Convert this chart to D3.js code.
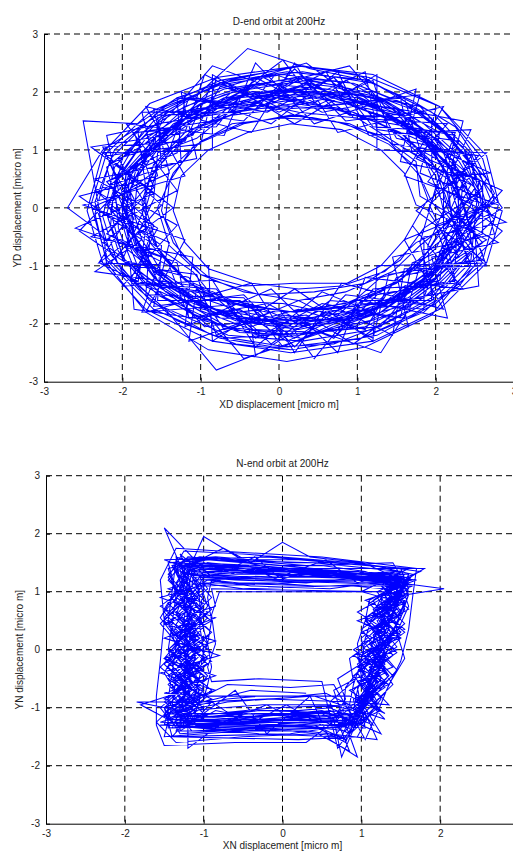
<!DOCTYPE html>
<html><head><meta charset="utf-8">
<script src="https://cdn.jsdelivr.net/npm/d3@7"></script>
<style>html,body{margin:0;padding:0;background:#fff;}svg{display:block;font-family:"Liberation Sans",Arial,sans-serif;}</style>
</head><body>
<svg id="chart" width="513" height="851"></svg>
<script>
const tickValues = [-3, -2, -1, 0, 1, 2, 3];
const tickLabels = ["-3", "-2", "-1", "0", "1", "2", "3"];
const titles = ["D-end orbit at 200Hz", "N-end orbit at 200Hz"];
const xLabels = ["XD displacement [micro m]", "XN displacement [micro m]"];
const yLabels = ["YD displacement [micro m]", "YN displacement [micro m]"];

const dEndOrbit = [
[2.35,0.05],[2.1,0.7],[1.9,1.1],[1.5,1.7],[0.8,1.85],[0.25,2.1],[-0.5,1.8],[-1.1,1.7],[-1.5,1.1],[-1.9,0.7],[-2.0,0.1],[-1.8,-0.7],[-1.6,-1.1],[-1.0,-1.7],[-0.4,-1.85],[0.2,-2.1],[0.9,-1.8],[1.4,-1.7],[2.0,-1.1],[2.3,-0.55],
[2.6,0.1],[2.45,0.75],[2.1,1.3],[1.6,1.8],[0.95,2.15],[0.2,2.25],[-0.55,2.05],[-1.2,1.75],[-1.75,1.3],[-2.05,0.6],[-2.2,-0.1],[-2.05,-0.75],[-1.7,-1.35],[-1.15,-1.8],[-0.5,-2.15],[0.25,-2.2],[0.95,-2.05],[1.6,-1.75],[2.15,-1.3],[2.5,-0.7],
[2.1,-0.05],[2.0,0.55],[1.75,1.05],[1.3,1.45],[0.75,1.7],[0.15,1.75],[-0.4,1.7],[-0.95,1.45],[-1.35,1.05],[-1.65,0.5],[-1.75,-0.05],[-1.65,-0.6],[-1.35,-1.05],[-0.95,-1.5],[-0.4,-1.7],[0.2,-1.8],[0.8,-1.7],[1.3,-1.45],[1.75,-1.05],[2.0,-0.55],
[2.45,0.2],[2.3,0.5],[1.8,1.3],[1.55,1.5],[0.9,2.0],[0.1,1.9],[-0.35,2.1],[-1.15,1.5],[-1.45,1.3],[-2.0,0.55],[-1.85,0.15],[-1.95,-0.7],[-1.45,-1.25],[-1.2,-1.5],[-0.35,-2.05],[0.05,-1.85],[1.0,-2.0],[1.35,-1.5],[2.05,-1.25],[2.15,-0.45],
[2.7,-0.1],[2.3,0.8],[2.05,1.15],[1.35,1.8],[0.8,2.1],[0.35,2.2],[-0.6,2.0],[-1.0,1.55],[-1.7,1.25],[-2.2,0.7],[-2.1,0.2],[-1.95,-0.5],[-1.75,-1.2],[-1.05,-1.75],[-0.6,-2.1],[0.3,-2.25],[0.8,-2.0],[1.55,-1.7],[1.95,-1.3],[2.45,-0.6],
[2.25,0.1],[2.15,0.6],[1.85,1.15],[1.4,1.55],[0.85,1.8],[0.2,1.95],[-0.45,1.8],[-1.05,1.55],[-1.5,1.1],[-1.8,0.55],[-1.85,-0.1],[-1.75,-0.55],[-1.5,-1.1],[-1.0,-1.55],[-0.45,-1.8],[0.15,-1.95],[0.85,-1.8],[1.45,-1.55],[1.85,-1.15],[2.2,-0.6],
[2.85,0.0],[2.4,0.85],[2.2,1.2],[1.5,1.95],[1.0,2.3],[0.25,2.45],[-0.65,2.2],[-1.3,1.9],[-1.8,1.45],[-2.5,1.5],[-2.3,0.0],[-2.2,-0.85],[-1.8,-1.4],[-1.3,-1.95],[-0.55,-2.35],[0.15,-2.45],[1.05,-2.25],[1.7,-1.85],[2.3,-1.35],[2.6,-0.8],
[2.4,-0.2],[2.2,0.7],[1.95,1.0],[1.45,1.7],[0.7,1.95],[0.2,1.85],[-0.5,2.0],[-1.1,1.6],[-1.6,1.2],[-1.85,0.7],[-2.05,-0.1],[-1.8,-0.6],[-1.55,-1.25],[-1.1,-1.6],[-0.4,-2.0],[0.25,-1.9],[0.9,-1.95],[1.4,-1.6],[1.95,-1.2],[2.3,-0.7],
[2.15,0.25],[1.95,0.8],[1.6,1.25],[1.2,1.5],[0.6,1.75],[0.0,1.7],[-0.6,1.6],[-1.1,1.35],[-1.5,0.85],[-1.7,0.35],[-1.7,-0.3],[-1.5,-0.8],[-1.2,-1.25],[-0.75,-1.6],[-0.15,-1.8],[0.45,-1.75],[1.0,-1.6],[1.5,-1.3],[1.85,-0.85],[2.1,-0.3],
[2.55,0.3],[2.3,0.9],[1.85,1.45],[1.3,1.9],[0.65,2.1],[0.0,2.2],[-0.7,1.95],[-1.3,1.6],[-1.8,1.0],[-2.1,0.4],[-2.15,-0.3],[-1.95,-0.95],[-1.55,-1.5],[-0.95,-1.95],[-0.25,-2.2],[0.45,-2.15],[1.15,-1.95],[1.7,-1.55],[2.15,-1.05],[2.45,-0.4],
[2.2,0.0],[2.4,0.6],[1.75,1.35],[1.65,1.45],[0.95,1.75],[0.3,2.25],[-0.35,1.75],[-0.95,1.85],[-1.6,1.0],[-1.75,0.8],[-2.2,0.05],[-1.7,-0.75],[-1.65,-0.95],[-0.85,-1.85],[-0.5,-1.75],[0.1,-2.3],[1.0,-1.75],[1.25,-1.85],[2.1,-0.95],[2.05,-0.75],
[2.5,-0.1],[2.35,0.55],[2.0,1.2],[1.55,1.6],[0.95,1.95],[0.3,2.05],[-0.4,1.95],[-1.0,1.7],[-1.55,1.25],[-1.95,0.65],[-2.0,-0.05],[-1.9,-0.65],[-1.6,-1.2],[-1.1,-1.7],[-0.45,-1.95],[0.2,-2.05],[0.9,-1.9],[1.5,-1.6],[2.0,-1.2],[2.35,-0.6],
[2.75,0.25],[2.5,0.9],[2.25,1.4],[1.7,1.85],[1.1,2.2],[0.4,2.4],[-0.4,2.75],[-1.0,2.0],[-1.6,1.55],[-2.25,1.0],[-2.7,0.0],[-2.3,-0.4],[-2.0,-1.1],[-1.45,-1.75],[-0.8,-2.8],[-0.05,-2.4],[0.7,-2.35],[1.35,-2.0],[1.95,-1.6],[2.85,-0.4],
[2.3,0.15],[2.1,0.65],[1.9,1.2],[1.35,1.65],[0.75,1.95],[0.15,2.0],[-0.5,1.9],[-1.05,1.6],[-1.5,1.15],[-1.9,0.6],[-1.95,-0.05],[-1.8,-0.6],[-1.55,-1.15],[-1.05,-1.65],[-0.5,-1.9],[0.15,-2.0],[0.8,-1.9],[1.4,-1.6],[1.9,-1.2],[2.3,-0.55],
[2.6,0.05],[1.95,0.7],[1.95,1.55],[0.9,1.6],[0.25,2.25],[-0.5,1.65],[-1.55,1.6],[-1.5,0.7],[-2.2,0.05],[-1.5,-0.65],[-1.55,-1.6],[-0.5,-1.6],[0.2,-2.25],[0.95,-1.6],[1.95,-1.6],[1.9,-0.65],
[2.1,-0.05],[2.45,0.9],[1.5,1.2],[1.15,2.05],[0.15,1.75],[-0.75,2.1],[-1.1,1.25],[-2.05,0.85],[-1.7,0.05],[-2.0,-0.9],[-1.15,-1.2],[-0.7,-2.1],[0.25,-1.75],[1.1,-2.1],[1.5,-1.2],[2.45,-0.9],
[2.55,0.45],[1.8,1.0],[1.6,1.9],[0.55,1.75],[-0.2,2.25],[-0.85,1.5],[-1.8,1.3],[-1.7,0.35],[-2.2,-0.45],[-1.4,-1.0],[-1.15,-1.9],[-0.2,-1.75],[0.7,-2.25],[1.25,-1.5],[2.25,-1.25],[2.1,-0.35],
[2.1,0.35],[2.25,1.25],[1.25,1.5],[0.7,2.25],[-0.2,1.75],[-1.15,1.9],[-1.4,1.0],[-2.2,0.45],[-1.7,-0.35],[-1.8,-1.3],[-0.85,-1.5],[-0.2,-2.25],[0.55,-1.75],[1.6,-1.9],[1.8,-1.0],[2.55,-0.45],
[2.75,-0.2],[2.0,0.95],[2.05,1.3],[0.85,2.2],[0.45,1.8],[-0.85,2.15],[-1.2,1.15],[-2.25,1.05],[-1.85,-0.2],[-2.25,-0.6],[-1.25,-1.65],[-0.95,-2.05],[0.35,-1.85],[0.95,-2.35],[2.05,-1.25],[2.25,-0.95],
[2.3,0.3],[2.5,0.65],[1.6,1.6],[1.3,1.7],[-0.05,2.3],[-0.4,1.7],[-1.55,1.45],[-1.6,0.95],[-2.3,0.25],[-1.65,-0.55],[-1.7,-1.5],[-0.45,-1.55],[0.05,-2.4],[1.2,-1.7],[1.65,-1.55],[2.6,-0.6],
[2.05,0.2],[1.85,0.85],[1.45,1.35],[0.85,1.7],[0.1,1.85],[-0.55,1.7],[-1.2,1.3],[-1.6,0.75],[-1.75,0.1],[-1.6,-0.6],[-1.25,-1.2],[-0.6,-1.6],[0.1,-1.8],[0.85,-1.65],[1.45,-1.3],[1.9,-0.75],
[2.7,0.15],[2.45,0.95],[1.95,1.65],[1.2,2.15],[0.3,2.35],[-0.6,2.2],[-1.45,1.75],[-2.1,1.0],[-2.35,0.1],[-2.15,-0.8],[-1.65,-1.6],[-0.85,-2.2],[0.1,-2.4],[1.05,-2.25],[1.85,-1.8],[2.5,-1.0],
[2.4,-0.1],[2.1,0.95],[1.85,1.3],[1.05,1.7],[0.4,2.15],[-0.45,1.75],[-1.45,1.65],[-1.75,0.65],[-2.05,0.2],[-1.7,-0.95],[-1.35,-1.3],[-0.75,-1.9],[0.3,-1.95],[0.9,-1.7],[1.85,-1.55],[2.1,-0.6],
[2.5,0.35],[2.05,0.9],[1.7,1.55],[1.0,1.75],[0.05,2.05],[-0.7,1.9],[-1.25,1.5],[-1.95,0.6],[-2.0,-0.15],[-1.85,-0.7],[-1.45,-1.45],[-0.55,-1.95],[0.25,-2.1],[1.15,-1.85],[1.6,-1.35],[2.3,-0.85],
[1.9,-0.05],[2.1,0.6],[1.4,1.2],[1.0,1.55],[0.25,1.65],[-0.45,1.85],[-1.05,1.2],[-1.55,0.95],[-1.6,0.15],[-1.8,-0.45],[-1.1,-1.1],[-0.8,-1.6],[0.05,-1.65],[0.75,-1.85],[1.3,-1.2],[2.0,-0.95],
[2.65,0.5],[2.25,1.1],[1.8,1.75],[0.85,2.0],[0.35,2.5],[-0.9,2.0],[-1.4,1.35],[-2.15,0.75],[-1.85,0.0],[-2.3,-0.95],[-1.35,-1.55],[-0.7,-2.25],[0.4,-2.15],[1.3,-2.05],[1.75,-1.3],[2.65,-0.55],
[2.3,-0.3],[2.35,0.5],[1.95,1.25],[1.35,1.85],[0.6,2.05],[-0.25,2.15],[-1.0,1.8],[-1.7,1.2],[-2.1,0.45],[-2.05,-0.35],[-1.85,-1.05],[-1.05,-1.75],[-0.35,-2.1],[0.55,-2.15],[1.3,-1.8],[1.95,-1.2],
[2.45,0.05],[2.2,0.85],[1.65,1.35],[1.05,1.95],[0.2,1.95],[-0.65,1.9],[-1.35,1.45],[-1.8,0.8],[-1.95,0.0],[-1.8,-0.75],[-1.35,-1.4],[-0.65,-1.85],[0.2,-2.0],[1.05,-1.85],[1.7,-1.4],[2.2,-0.75],
[1.92,0.05],[2.55,0.9],[1.45,1.1],[1.2,2.2],[0.2,1.6],[-0.8,2.25],[-1.0,1.1],[-2.2,0.9],[-1.5,0.05],[-2.15,-0.95],[-1.05,-1.15],[-0.8,-2.2],[0.25,-1.6],[1.2,-2.25],[1.4,-1.15],[2.6,-0.9],
[2.8,0.05],[1.8,0.6],[2.0,1.7],[0.85,1.5],[0.2,2.4],[-0.45,1.5],[-1.6,1.7],[-1.4,0.6],[-2.4,0.0],[-1.4,-0.6],[-1.6,-1.7],[-0.45,-1.5],[0.2,-2.4],[0.85,-1.5],[2.0,-1.7],[1.8,-0.6],
[2.0,0.35],[2.25,1.3],[1.2,1.4],[0.7,2.25],[-0.15,1.65],[-1.2,1.9],[-1.3,0.95],[-2.2,0.45],[-1.6,-0.3],[-1.85,-1.3],[-0.8,-1.4],[-0.3,-2.25],[0.55,-1.65],[1.55,-1.9],[1.7,-0.95],[2.6,-0.45],
[2.6,0.45],[1.7,0.95],[1.55,1.9],[0.55,1.65],[-0.3,2.25],[-0.8,1.4],[-1.85,1.3],[-1.6,0.35],[-2.2,-0.45],[-1.3,-0.95],[-1.15,-1.9],[-0.15,-1.65],[0.7,-2.25],[1.2,-1.4],[2.25,-1.3],[2.0,-0.3],
[2.75,0.1],[2.6,0.85],[2.05,1.75],[1.15,2.25],[0.3,2.45],[-0.75,2.2],[-1.65,1.65],[-2.2,0.95],[-2.4,0.05],[-2.2,-0.9],[-1.6,-1.75],[-0.75,-2.25],[0.15,-2.45],[1.25,-2.2],[2.0,-1.65],[2.6,-0.95],
[1.95,0.1],[1.8,0.55],[1.4,1.15],[0.9,1.45],[0.15,1.6],[-0.45,1.45],[-1.05,1.1],[-1.4,0.65],[-1.5,-0.05],[-1.35,-0.6],[-1.0,-1.15],[-0.45,-1.45],[0.25,-1.6],[0.85,-1.45],[1.45,-1.1],[1.8,-0.65],
[2.3,-0.1],[2.25,0.8],[1.7,1.35],[1.0,1.9],[0.15,2.05],[-0.6,1.8],[-1.35,1.45],[-1.75,0.75],[-2.0,0.05],[-1.8,-0.8],[-1.3,-1.35],[-0.65,-1.9],[0.25,-1.95],[1.0,-1.9],[1.75,-1.4],[2.15,-0.75],
[2.55,0.05],[2.4,0.85],[1.9,1.6],[1.1,2.0],[0.25,2.25],[-0.7,2.05],[-1.5,1.55],[-2.0,0.85],[-2.15,-0.05],[-2.0,-0.85],[-1.45,-1.55],[-0.7,-2.05],[0.2,-2.2],[1.1,-2.05],[1.85,-1.55],[2.4,-0.85],
[2.15,0.0],[2.0,0.7],[1.55,1.3],[0.95,1.65],[0.2,1.8],[-0.55,1.65],[-1.15,1.25],[-1.55,0.7],[-1.7,0.0],[-1.55,-0.7],[-1.15,-1.3],[-0.55,-1.65],[0.2,-1.8],[0.95,-1.7],[1.55,-1.25],[2.0,-0.7],
[2.45,0.4],[1.75,0.85],[2.15,1.45],[0.95,1.55],[0.6,2.35],[-0.3,1.7],[-1.3,1.9],[-1.25,0.8],[-2.35,0.3],[-1.55,-0.35],[-1.9,-1.25],[-0.75,-1.5],[-0.1,-2.35],[0.65,-1.6],[1.85,-1.75],[1.85,-0.5],
[2.9,-0.25],[1.9,0.45],[2.3,1.15],[1.25,1.35],[1.1,2.35],[0.0,1.65],[-0.95,2.3],[-1.2,1.3],[-2.4,1.05],[-1.6,0.25],[-2.6,-0.35],[-1.5,-0.85],[-1.75,-1.8],[-0.4,-1.65],[-0.3,-2.55],[0.7,-1.7],[1.45,-2.2],[1.6,-1.05],[2.65,-1.0],
[2.2,0.55],[2.7,0.6],[1.65,1.25],[1.8,1.95],[0.5,1.75],[0.05,2.55],[-0.85,1.65],[-1.75,1.65],[-1.55,0.55],[-2.55,0.2],[-1.75,-0.55],[-2.35,-1.1],[-1.05,-1.35],[-1.15,-2.3],[0.0,-1.75],[0.45,-2.6],[1.05,-1.6],[2.15,-1.9],[1.95,-0.85],[2.8,-0.6],
[1.8,0.2],[1.75,0.8],[1.3,1.25],[0.7,1.5],[0.05,1.55],[-0.6,1.45],[-1.1,1.05],[-1.4,0.45],[-1.45,-0.2],[-1.25,-0.8],[-0.85,-1.25],[-0.25,-1.5],[0.45,-1.45],[1.1,-1.3],[1.55,-0.9],[1.85,-0.35],
[2.6,0.3],[2.35,1.05],[1.75,1.7],[0.95,2.15],[0.05,2.3],[-0.85,2.1],[-1.6,1.5],[-2.1,0.7],[-2.25,-0.15],[-2.05,-1.0],[-1.5,-1.7],[-0.65,-2.2],[0.3,-2.3],[1.2,-2.1],[1.95,-1.55],[2.45,-0.75],
[2.2,-0.15],[2.15,0.55],[1.85,1.2],[1.25,1.75],[0.45,2.0],[-0.35,2.0],[-1.1,1.65],[-1.65,1.05],[-1.9,0.3],[-1.85,-0.45],[-1.55,-1.15],[-0.95,-1.7],[-0.15,-2.0],[0.65,-2.0],[1.35,-1.7],[1.9,-1.1],
[2.85,0.3],[2.2,0.7],[2.35,1.5],[1.35,1.75],[0.9,2.45],[-0.15,2.1],[-0.85,2.45],[-1.5,1.45],[-2.2,1.25],[-2.05,0.3],[-2.55,-0.4],[-1.9,-1.0],[-1.85,-1.75],[-0.85,-1.95],[-0.45,-2.6],[0.55,-2.15],[1.3,-2.5],[1.75,-1.55],[2.55,-1.35],[2.5,-0.4],
[1.75,0.05],[1.6,0.6],[1.3,1.0],[0.8,1.35],[0.15,1.45],[-0.4,1.3],[-0.9,1.0],[-1.25,0.55],[-1.35,-0.05],[-1.2,-0.6],[-0.9,-1.05],[-0.35,-1.3],[0.25,-1.4],[0.8,-1.35],[1.3,-1.0],[1.6,-0.55],
[2.8,0.1],[2.65,0.9],[2.05,1.75],[1.2,2.3],[0.25,2.45],[-0.8,2.25],[-1.65,1.8],[-2.25,0.95],[-2.45,-0.05],[-2.25,-0.95],[-1.7,-1.75],[-0.85,-2.3],[0.15,-2.5],[1.2,-2.3],[2.05,-1.75],[2.65,-0.95],
[1.75,-0.05],[2.65,0.95],[1.25,1.0],[1.25,2.3],[0.2,1.45],[-0.85,2.3],[-0.85,1.0],[-2.25,0.95],[-1.35,0.0],[-2.3,-0.95],[-0.9,-1.0],[-0.85,-2.3],[0.2,-1.4],[1.2,-2.3],[1.25,-1.0],[2.65,-0.95],
[2.85,-0.05],[1.6,0.55],[2.1,1.75],[0.75,1.3],[0.2,2.5],[-0.35,1.3],[-1.7,1.75],[-1.2,0.55],[-2.5,0.05],[-1.2,-0.55],[-1.7,-1.8],[-0.35,-1.3],[0.2,-2.5],[0.8,-1.3],[2.1,-1.75],[1.6,-0.55],
[1.9,0.15],[1.75,0.7],[1.4,1.1],[0.85,1.45],[0.25,1.6],[-0.5,1.45],[-1.0,1.15],[-1.35,0.6],[-1.55,0.0],[-1.4,-0.65],[-1.0,-1.15],[-0.45,-1.35],[0.2,-1.3],[0.9,-1.3],[1.35,-1.1],[1.75,-0.6],
[2.6,-0.05],[2.45,0.9],[1.9,1.6],[1.15,2.2],[0.1,2.35],[-0.75,2.15],[-1.55,1.65],[-2.15,0.85],[-2.35,-0.1],[-2.2,-0.95],[-1.7,-1.8],[-0.9,-2.45],[0.1,-2.65],[1.1,-2.4],[1.95,-1.85],[2.45,-1.0],
[2.1,0.3],[2.45,1.35],[1.15,1.25],[0.75,2.35],[-0.1,1.45],[-1.25,2.0],[-1.05,0.85],[-2.35,0.5],[-1.3,-0.3],[-2.0,-1.35],[-0.85,-1.25],[-0.3,-2.4],[0.55,-1.45],[1.65,-2.05],[1.45,-0.85],[2.75,-0.45],
[2.55,0.5],[1.55,0.8],[1.75,2.05],[0.45,1.45],[-0.3,2.5],[-0.7,1.25],[-1.95,1.45],[-1.3,0.3],[-2.4,-0.5],[-1.1,-0.85],[-1.2,-2.05],[-0.1,-1.4],[0.75,-2.5],[1.1,-1.2],[2.35,-1.4],[1.7,-0.3]
];

const nEndOrbit = [
[1.45,1.2],[1.0,1.25],[0.5,1.3],[0.0,1.3],[-0.5,1.35],[-0.9,1.4],[-1.2,1.35],[-1.15,0.9],[-1.2,0.4],[-1.1,0.0],[-1.15,-0.4],[-1.2,-0.8],[-1.25,-1.15],[-0.8,-1.1],[-0.3,-1.05],[0.2,-1.05],[0.6,-1.0],[0.95,-1.2],[1.05,-0.8],[1.15,-0.4],[1.2,0.0],[1.3,0.4],[1.4,0.8],
[1.6,1.15],[1.1,1.45],[0.6,1.5],[0.1,1.5],[-0.4,1.55],[-0.85,1.6],[-1.35,1.55],[-1.4,1.0],[-1.45,0.5],[-1.35,0.05],[-1.4,-0.4],[-1.45,-0.85],[-1.45,-1.35],[-0.9,-1.3],[-0.4,-1.3],[0.1,-1.3],[0.55,-1.25],[0.85,-1.45],[1.0,-0.95],[1.2,-0.45],[1.3,0.0],[1.45,0.45],[1.55,0.85],
[1.3,1.05],[0.9,1.1],[0.4,1.1],[-0.1,1.15],[-0.55,1.15],[-0.9,1.2],[-0.95,0.9],[-0.9,0.5],[-0.95,0.1],[-0.9,-0.3],[-0.95,-0.6],[-1.0,-0.85],[-1.05,-0.95],[-0.7,-0.85],[-0.3,-0.8],[0.2,-0.8],[0.55,-0.75],[0.85,-0.95],[0.9,-0.6],[1.0,-0.2],[1.05,0.2],[1.15,0.6],[1.25,0.9],
[1.55,1.3],[1.05,1.2],[0.45,1.4],[-0.05,1.2],[-0.45,1.45],[-1.0,1.3],[-1.3,1.65],[-1.05,1.0],[-1.3,0.3],[-1.0,0.1],[-1.3,-0.3],[-1.05,-0.7],[-1.4,-1.2],[-0.75,-1.25],[-0.2,-0.95],[0.15,-1.2],[0.7,-1.1],[0.9,-1.35],[1.15,-0.7],[1.0,-0.3],[1.35,0.1],[1.2,0.5],[1.5,0.9],
[1.5,1.1],[0.95,1.35],[0.4,1.3],[-0.1,1.4],[-0.6,1.3],[-1.0,1.5],[-1.25,1.3],[-1.25,0.8],[-1.1,0.35],[-1.25,-0.1],[-1.1,-0.5],[-1.3,-0.9],[-1.3,-1.25],[-0.85,-1.2],[-0.35,-1.15],[0.15,-1.1],[0.55,-1.15],[1.0,-1.1],[1.1,-0.75],[1.1,-0.35],[1.3,0.05],[1.35,0.45],[1.45,0.75],
[1.6,1.25],[1.1,1.3],[0.55,1.25],[0.05,1.35],[-0.45,1.5],[-1.0,1.95],[-1.15,1.5],[-1.3,0.9],[-1.15,0.45],[-1.2,0.0],[-1.2,-0.45],[-1.25,-0.75],[-1.3,-1.4],[-0.85,-1.05],[-0.3,-1.2],[0.25,-1.15],[0.65,-1.2],[0.75,-1.85],[1.05,-0.9],[1.25,-0.5],[1.15,-0.05],[1.45,0.35],[1.35,0.9],
[2.05,1.05],[1.2,1.2],[0.6,1.35],[0.05,1.25],[-0.5,1.4],[-0.95,1.35],[-1.25,1.45],[-1.2,1.0],[-1.25,0.5],[-1.2,0.0],[-1.25,-0.35],[-1.15,-0.9],[-1.85,-0.9],[-0.95,-1.15],[-0.4,-1.1],[0.1,-1.15],[0.6,-1.05],[1.0,-1.3],[0.95,-0.85],[1.2,-0.5],[1.25,0.05],[1.35,0.5],[1.5,0.95],
[1.4,1.15],[0.9,1.2],[0.45,1.2],[0.0,1.2],[-0.45,1.25],[-0.85,1.3],[-1.1,1.25],[-1.05,0.85],[-1.05,0.4],[-1.0,0.0],[-1.05,-0.45],[-1.1,-0.75],[-1.15,-1.05],[-0.75,-1.0],[-0.25,-0.95],[0.25,-0.95],[0.6,-0.95],[0.9,-1.05],[0.95,-0.7],[1.05,-0.3],[1.15,0.15],[1.25,0.5],[1.35,0.85],
[1.55,1.1],[1.05,1.35],[0.5,1.45],[0.0,1.45],[-0.5,1.5],[-0.95,1.55],[-1.45,1.4],[-1.35,0.95],[-1.4,0.45],[-1.45,0.0],[-1.35,-0.5],[-1.4,-0.95],[-1.5,-1.5],[-1.0,-1.45],[-0.5,-1.4],[0.0,-1.35],[0.45,-1.35],[0.8,-1.6],[0.95,-1.1],[1.1,-0.6],[1.3,-0.15],[1.4,0.3],[1.55,0.7],
[1.45,1.35],[0.95,1.15],[0.55,1.55],[-0.05,1.25],[-0.35,1.6],[-0.9,1.25],[-1.5,2.1],[-1.2,1.15],[-1.35,0.6],[-1.05,0.2],[-1.4,-0.2],[-1.0,-0.6],[-1.15,-1.3],[-0.9,-0.9],[-0.45,-1.3],[0.05,-0.95],[0.5,-1.3],[1.05,-1.25],[1.0,-1.0],[1.15,-0.2],[1.4,0.2],[1.25,0.7],[1.6,1.0],
[1.5,1.2],[1.0,1.3],[0.5,1.35],[0.0,1.35],[-0.5,1.4],[-0.95,1.45],[-1.3,1.4],[-1.25,0.95],[-1.2,0.5],[-1.25,0.05],[-1.2,-0.45],[-1.25,-0.85],[-1.35,-1.2],[-0.85,-1.15],[-0.35,-1.1],[0.15,-1.1],[0.6,-1.1],[0.9,-1.25],[1.0,-0.8],[1.15,-0.4],[1.2,0.05],[1.35,0.45],[1.45,0.85],
[1.65,1.3],[1.0,1.5],[0.35,1.6],[0.0,1.85],[-0.4,1.5],[-0.75,1.75],[-1.35,1.35],[-1.15,0.7],[-1.25,0.3],[-1.1,-0.15],[-1.3,-0.55],[-1.2,-1.0],[-1.2,-1.7],[-0.8,-1.3],[-0.3,-1.25],[0.2,-1.25],[0.75,-1.15],[1.25,-1.45],[1.0,-0.9],[1.25,-0.3],[1.3,0.15],[1.5,0.55],[1.6,0.95],
[1.0,-0.95],[1.3,-0.55],[1.05,-0.15],[1.4,0.25],[1.2,0.6],[1.5,1.0],[1.45,1.3],[0.3,1.4],[-1.15,1.45],[-1.35,1.05],[-0.95,0.65],[-1.3,0.25],[-1.0,-0.15],[-1.4,-0.55],[-1.05,-0.95],[-1.35,-1.3],[0.1,-1.2],[0.85,-1.25],
[1.15,-0.8],[0.95,-0.4],[1.35,0.0],[1.15,0.35],[1.45,0.7],[1.3,1.05],[1.6,1.2],[-0.2,1.3],[-1.3,1.5],[-1.05,1.1],[-1.4,0.7],[-1.1,0.3],[-1.35,-0.1],[-0.95,-0.5],[-1.3,-0.85],[-1.2,-1.2],[-0.3,-1.05],[0.95,-1.1],
[0.9,-1.05],[1.2,-0.7],[1.0,-0.35],[1.3,0.1],[1.1,0.45],[1.4,0.85],[1.55,1.15],[0.6,1.25],[-0.9,1.35],[-1.25,1.3],[-1.1,0.85],[-1.45,0.45],[-1.15,0.05],[-1.35,-0.35],[-1.0,-0.7],[-1.3,-1.05],[-1.4,-1.35],[0.2,-1.3],[0.8,-1.4],
[1.05,-0.9],[1.35,-0.45],[1.15,-0.05],[1.5,0.3],[1.3,0.7],[1.55,0.95],[1.4,1.25],[0.0,1.45],[-1.2,1.6],[-1.45,1.2],[-1.15,0.8],[-1.4,0.35],[-1.1,-0.05],[-1.45,-0.45],[-1.15,-0.85],[-1.45,-1.1],[-0.6,-1.2],[0.5,-1.05],[1.0,-1.3],
[1.25,-0.85],[1.05,-0.5],[1.4,-0.1],[1.2,0.3],[1.5,0.6],[1.35,0.95],[1.65,1.1],[0.8,1.15],[-0.6,1.2],[-1.05,1.25],[-1.25,0.95],[-0.95,0.55],[-1.25,0.15],[-0.95,-0.25],[-1.3,-0.6],[-1.05,-0.95],[-1.25,-1.15],[-0.1,-1.0],[0.9,-0.95],
[1.1,-0.6],[0.95,-0.25],[1.3,0.15],[1.05,0.5],[1.45,0.8],[1.25,1.1],[1.5,1.35],[0.4,1.5],[-1.0,1.55],[-1.35,1.4],[-1.2,1.0],[-1.5,0.55],[-1.2,0.15],[-1.5,-0.25],[-1.2,-0.65],[-1.5,-1.0],[-1.3,-1.45],[-0.2,-1.35],[0.75,-1.5],
[0.85,-1.2],[1.15,-0.85],[0.9,-0.45],[1.25,-0.05],[1.0,0.35],[1.35,0.7],[1.2,1.0],[1.45,1.15],[-0.1,1.2],[-1.15,1.3],[-0.9,0.9],[-1.2,0.5],[-0.95,0.1],[-1.25,-0.3],[-0.9,-0.7],[-1.2,-1.0],[-1.1,-1.3],[0.3,-1.2],[0.95,-1.15],
[1.2,-0.75],[1.45,-0.35],[1.2,0.05],[1.55,0.45],[1.3,0.8],[1.6,1.05],[1.5,1.4],[0.2,1.55],[-1.25,1.55],[-1.45,1.3],[-1.2,0.9],[-1.5,0.5],[-1.25,0.1],[-1.45,-0.3],[-1.15,-0.7],[-1.45,-1.05],[-1.5,-1.3],[-0.4,-1.4],[0.6,-1.35],
[1.0,-1.1],[0.9,-0.7],[1.2,-0.3],[1.0,0.1],[1.3,0.5],[1.15,0.85],[1.4,1.1],[0.5,1.1],[-0.8,1.15],[-1.0,1.15],[-1.2,0.7],[-0.9,0.3],[-1.2,-0.1],[-0.95,-0.45],[-1.2,-0.85],[-1.0,-1.1],[-1.2,-1.25],[0.0,-1.1],[0.85,-1.05],
[1.3,-0.65],[1.1,-0.3],[1.45,0.05],[1.25,0.4],[1.55,0.75],[1.4,1.05],[1.7,1.2],[0.7,1.35],[-0.5,1.4],[-1.2,1.45],[-1.35,1.15],[-1.05,0.7],[-1.4,0.3],[-1.1,-0.1],[-1.45,-0.5],[-1.15,-0.8],[-1.5,-1.15],[-0.5,-1.25],[0.7,-1.25],
[0.95,-1.3],[1.2,-0.95],[1.0,-0.55],[1.35,-0.15],[1.15,0.25],[1.45,0.6],[1.3,0.95],[1.55,1.25],[0.1,1.3],[-1.05,1.4],[-1.25,1.2],[-1.0,0.75],[-1.3,0.4],[-1.05,0.0],[-1.35,-0.4],[-1.1,-0.75],[-1.4,-1.0],[-1.15,-1.4],[0.4,-1.3],[0.8,-1.55],
[1.1,-1.0],[1.4,-0.6],[1.2,-0.2],[1.5,0.2],[1.25,0.55],[1.55,0.9],[1.35,1.2],[0.2,1.2],[-0.9,1.25],[-1.3,1.35],[-1.05,1.05],[-1.35,0.6],[-1.1,0.2],[-1.35,-0.2],[-1.05,-0.55],[-1.35,-0.9],[-1.35,-1.25],[-0.2,-1.2],[0.9,-1.25],
[1.05,-0.75],[1.3,-0.3],[1.05,0.1],[1.35,0.45],[1.1,0.8],[1.4,1.05],[1.3,1.3],[-0.3,1.35],[-1.4,1.45],[-1.25,1.05],[-1.5,0.65],[-1.25,0.25],[-1.5,-0.15],[-1.2,-0.55],[-1.5,-0.9],[-1.2,-1.2],[-1.4,-1.5],[0.1,-1.45],[0.85,-1.3],
[1.25,-1.05],[1.0,-0.65],[1.3,-0.25],[1.1,0.15],[1.4,0.55],[1.2,0.9],[1.55,1.05],[0.9,1.3],[-0.3,1.45],[-1.1,1.5],[-1.15,1.1],[-0.9,0.7],[-1.2,0.3],[-0.9,-0.05],[-1.25,-0.45],[-0.95,-0.8],[-1.25,-1.1],[-0.6,-1.1],[0.6,-1.15],
[0.95,-0.9],[1.25,-0.5],[1.05,-0.1],[1.45,0.3],[1.2,0.65],[1.5,1.0],[1.6,1.3],[0.0,1.4],[-1.3,1.5],[-1.2,1.2],[-1.45,0.8],[-1.15,0.4],[-1.45,0.0],[-1.15,-0.4],[-1.4,-0.75],[-1.2,-1.1],[-1.55,-1.25],[-0.3,-1.3],[0.95,-1.2],
[0.9,-0.85],[1.35,-0.6],[0.95,-0.3],[1.45,0.0],[1.0,0.3],[1.5,0.6],[1.05,0.85],[1.55,1.1],[1.3,1.0],[-0.9,1.05],[-0.85,0.75],[-1.5,0.45],[-0.85,0.15],[-1.5,-0.15],[-0.85,-0.45],[-1.5,-0.75],[-0.9,-0.8],[0.85,-0.8],
[1.3,-1.1],[0.85,-0.7],[1.3,-0.4],[0.9,-0.1],[1.5,0.2],[0.95,0.5],[1.55,0.8],[1.0,1.0],[1.6,1.4],[-0.2,1.6],[-1.5,1.55],[-0.8,1.2],[-1.55,0.9],[-0.85,0.55],[-1.5,0.2],[-0.8,-0.1],[-1.55,-0.4],[-0.85,-0.7],[-1.5,-1.0],[-1.4,-1.5],[0.2,-1.55],[0.95,-1.5],
[1.05,-1.25],[1.2,-0.9],[1.05,-0.5],[1.25,-0.15],[1.15,0.25],[1.35,0.6],[1.3,0.95],[1.45,1.25],[0.5,1.3],[-0.6,1.3],[-1.15,1.35],[-1.2,1.0],[-1.0,0.65],[-1.3,0.25],[-1.05,-0.1],[-1.3,-0.45],[-1.05,-0.8],[-1.3,-1.15],[-0.5,-1.15],[0.5,-1.1],
[0.9,-1.4],[1.2,-1.0],[0.95,-0.55],[1.4,-0.3],[1.1,0.1],[1.55,0.35],[1.2,0.75],[1.6,1.05],[1.4,1.5],[0.3,1.45],[-1.05,1.6],[-1.4,1.45],[-1.2,1.1],[-1.55,0.75],[-1.1,0.4],[-1.45,0.0],[-1.0,-0.35],[-1.4,-0.65],[-1.0,-1.0],[-1.45,-1.3],[-0.3,-1.45],[0.65,-1.5],
[1.15,-0.7],[1.25,-0.25],[1.2,0.2],[1.4,0.65],[1.45,1.05],[1.5,1.25],[0.0,1.15],[-1.0,1.1],[-1.05,0.6],[-0.95,0.1],[-1.1,-0.4],[-1.05,-0.9],[-0.2,-0.85],[0.9,-0.9],
[1.35,-0.95],[1.0,-0.45],[1.45,-0.05],[1.15,0.35],[1.6,0.7],[1.3,1.1],[1.75,1.35],[0.9,1.5],[-0.5,1.65],[-1.25,1.7],[-1.45,1.25],[-1.25,0.85],[-1.55,0.45],[-1.3,0.05],[-1.55,-0.3],[-1.25,-0.65],[-1.55,-1.0],[-1.35,-1.35],[-0.1,-1.25],[1.05,-1.35],
[0.95,-0.65],[1.3,-0.35],[0.9,0.0],[1.3,0.35],[0.95,0.65],[1.35,0.95],[1.45,1.2],[0.6,1.05],[-0.4,1.1],[-0.95,1.2],[-1.35,0.9],[-0.9,0.5],[-1.35,0.15],[-0.9,-0.2],[-1.35,-0.55],[-0.9,-0.85],[-1.4,-1.1],[-0.7,-0.9],[0.4,-0.8],
[1.3,-1.2],[1.05,-0.85],[1.4,-0.45],[1.15,-0.1],[1.55,0.3],[1.25,0.65],[1.6,0.95],[1.45,1.3],[-0.05,1.35],[-1.2,1.4],[-1.3,1.05],[-1.1,0.6],[-1.4,0.2],[-1.15,-0.2],[-1.45,-0.6],[-1.2,-0.95],[-1.35,-1.4],[0.3,-1.4],[1.2,-1.55],
[1.0,-0.95],[1.15,-0.55],[1.3,-0.1],[1.2,0.3],[1.5,0.65],[1.35,1.0],[1.55,1.2],[0.4,1.25],[-0.75,1.35],[-1.35,1.6],[-1.3,1.15],[-1.5,0.7],[-1.2,0.35],[-1.4,-0.05],[-1.15,-0.4],[-1.4,-0.8],[-1.15,-1.2],[-0.35,-1.2],[0.7,-1.2],
[1.2,-0.55],[0.95,-0.15],[1.35,0.2],[1.05,0.55],[1.45,0.9],[1.6,1.15],[0.7,1.25],[-0.6,1.45],[-1.15,1.45],[-0.95,1.05],[-1.25,0.7],[-0.9,0.3],[-1.3,-0.1],[-0.95,-0.5],[-1.3,-0.85],[-1.0,-1.2],[-1.55,-1.3],[-0.6,-1.35],[0.35,-1.3],[0.95,-1.3],
[0.85,-1.05],[1.1,-0.75],[1.35,-0.45],[1.05,-0.05],[1.5,0.25],[1.2,0.55],[1.55,0.85],[1.25,1.1],[1.5,1.35],[0.1,1.25],[-1.1,1.2],[-1.45,1.05],[-1.0,0.8],[-1.45,0.5],[-1.05,0.2],[-1.5,-0.15],[-1.05,-0.5],[-1.5,-0.85],[-1.1,-1.05],[-1.3,-1.3],[0.0,-1.2],[0.8,-1.1],
[1.15,-1.3],[0.95,-0.95],[1.25,-0.6],[1.0,-0.25],[1.35,0.15],[1.1,0.5],[1.45,0.85],[1.25,1.1],[1.65,1.2],[0.3,1.35],[-0.95,1.5],[-1.25,1.3],[-1.45,0.95],[-1.15,0.55],[-1.35,0.15],[-1.1,-0.25],[-1.4,-0.6],[-1.2,-1.0],[-1.45,-1.2],[-0.4,-1.3],[0.75,-1.35],
[0.8,-0.65],[1.0,-0.3],[0.95,0.1],[1.05,0.5],[1.1,0.85],[1.3,1.0],[0.2,1.0],[-0.8,1.0],[-0.9,0.6],[-0.85,0.1],[-0.95,-0.3],[-0.9,-0.55],[-0.3,-0.5],[0.5,-0.55],
[0.7,-1.7],[0.95,-1.2],[1.3,-0.75],[1.5,-0.2],[1.6,0.35],[1.65,0.9],[1.7,1.4],[0.5,1.6],[-0.8,1.7],[-1.35,1.75],[-1.55,1.2],[-1.5,0.5],[-1.55,-0.2],[-1.6,-0.8],[-1.6,-1.3],[-1.5,-1.65],[-0.6,-1.6],[0.3,-1.6],
[0.6,-1.3],[0.8,-0.85],[0.7,-0.5],[1.05,-0.2],[1.0,0.2],[1.3,0.55],[1.25,0.9],[1.55,1.25],[0.0,1.25],[-1.25,1.3],[-1.35,0.85],[-1.1,0.45],[-1.4,0.0],[-1.15,-0.45],[-1.45,-0.8],[-1.8,-0.95],[-1.25,-1.35],[-0.6,-0.7],[-0.2,-1.45],[0.35,-0.8],[0.6,-1.55],[0.95,-1.85],
[0.75,-1.1],[0.65,-0.7],[1.0,-0.45],[0.95,-0.05],[1.3,0.3],[1.15,0.7],[1.5,1.05],[1.35,1.3],[0.3,1.15],[-1.0,1.25],[-1.2,0.85],[-1.0,0.4],[-1.3,-0.05],[-1.0,-0.45],[-1.35,-0.75],[-1.5,-1.15],[-0.7,-0.6],[0.1,-0.65],[0.65,-0.6],
[1.05,-1.55],[1.2,-1.1],[1.35,-0.6],[1.55,-0.15],[1.45,0.3],[1.6,0.75],[1.5,1.15],[1.8,1.4],[0.4,1.4],[-0.9,1.55],[-1.45,1.5],[-1.35,1.0],[-1.55,0.55],[-1.3,0.1],[-1.5,-0.4],[-1.3,-0.85],[-1.6,-1.25],[-1.35,-1.6],[-0.5,-1.5],[0.45,-1.45],[0.85,-1.75],
[0.6,-0.9],[0.9,-0.55],[0.85,-0.15],[1.2,0.2],[1.05,0.55],[1.4,0.9],[1.3,1.15],[0.6,1.1],[-0.5,1.05],[-1.05,1.15],[-0.95,0.75],[-1.2,0.3],[-0.95,-0.15],[-1.2,-0.5],[-1.05,-0.8],[-1.3,-1.0],[-0.4,-0.7],[0.3,-0.75]
];

const svg = d3.select("#chart");
const panels = [
  {data: dEndOrbit, x0: 44, x1: 514, y0: 34, y1: 381.7, titleY: 25, xLabelY: 408, yLabelX: 21, showLast: true},
  {data: nEndOrbit, x0: 46, x1: 519, y0: 475.7, y1: 823.7, titleY: 467, xLabelY: 849, yLabelX: 23, showLast: false}
];
const textColor = "#222";

panels.forEach((p, i) => {
  const x = d3.scaleLinear().domain([-3, 3]).range([p.x0, p.x1]);
  const y = d3.scaleLinear().domain([-3, 3]).range([p.y1, p.y0]);
  const g = svg.append("g");

  g.selectAll(".vg").data(tickValues.slice(1)).enter().append("line")
    .attr("x1", d => x(d)).attr("x2", d => x(d)).attr("y1", p.y0).attr("y2", p.y1)
    .attr("stroke", "#000").attr("stroke-width", 1).attr("stroke-dasharray", "6,4");
  g.selectAll(".hg").data(tickValues.slice(1)).enter().append("line")
    .attr("x1", p.x0).attr("x2", p.x1).attr("y1", d => y(d)).attr("y2", d => y(d))
    .attr("stroke", "#000").attr("stroke-width", 1).attr("stroke-dasharray", "6,4");

  const line = d3.line().x(d => x(d[0])).y(d => y(d[1]));
  g.append("path").datum(p.data).attr("d", line)
    .attr("fill", "none").attr("stroke", "#0000ff").attr("stroke-width", 1.05)
    .attr("stroke-linejoin", "miter");

  const xt = p.showLast ? tickValues : tickValues.slice(0, -1);
  const xAxis = d3.axisBottom(x).tickValues(xt).tickFormat(d => tickLabels[tickValues.indexOf(d)])
    .tickSizeInner(-4).tickSizeOuter(0).tickPadding(6);
  const gx = g.append("g").attr("transform", `translate(0,${p.y1})`).call(xAxis);
  const yAxis = d3.axisLeft(y).tickValues(tickValues).tickFormat(d => tickLabels[tickValues.indexOf(d)])
    .tickSizeInner(-4).tickSizeOuter(0).tickPadding(6);
  const gy = g.append("g").attr("transform", `translate(${p.x0},0)`).call(yAxis);
  [gx, gy].forEach(a => {
    a.select(".domain").attr("stroke", "#000").attr("stroke-width", 1);
    a.selectAll(".tick line").attr("stroke", "#000");
    a.selectAll("text").attr("fill", textColor).style("font-size", "10px")
      .style("font-family", "'Liberation Sans', Arial, sans-serif");
  });

  svg.append("text").attr("x", x(0)).attr("y", p.titleY).attr("text-anchor", "middle")
    .attr("fill", textColor).style("font-size", "10px").text(titles[i]);
  svg.append("text").attr("x", x(0)).attr("y", p.xLabelY).attr("text-anchor", "middle")
    .attr("fill", textColor).style("font-size", "10px").text(xLabels[i]);
  svg.append("text").attr("transform", `translate(${p.yLabelX},${y(0)}) rotate(-90)`)
    .attr("text-anchor", "middle").attr("fill", textColor).style("font-size", "10px").text(yLabels[i]);
});
</script>
</body></html>
